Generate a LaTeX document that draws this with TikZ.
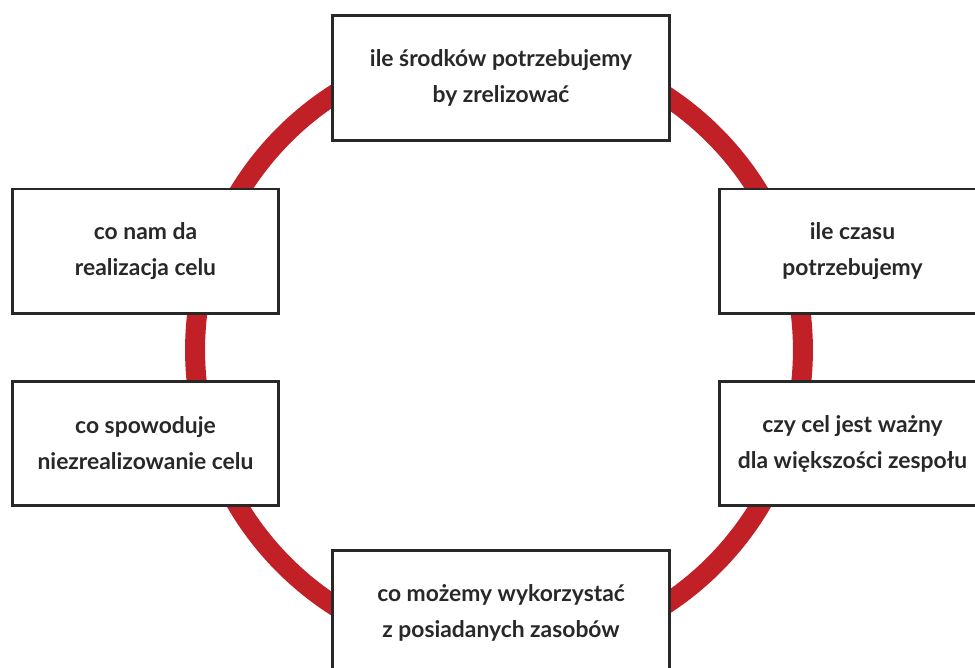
\documentclass[tikz,border=0pt]{standalone}
\usepackage{fontspec}
\setmainfont{Lato}
\usetikzlibrary{positioning}
\definecolor{ringred}{RGB}{193,32,39}
\definecolor{boxline}{RGB}{40,40,40}

\begin{document}
\begin{tikzpicture}[x=0.02cm, y=-0.02cm,
		pytanie/.style={draw=boxline, line width=1.7pt, fill=white, align=center, text=boxline,
			font=\bfseries\fontsize{13}{20.5}\selectfont, inner sep=0pt, minimum height=2.5cm},
		szeroka/.style={pytanie, minimum width=6.76cm},
		waska/.style={pytanie, minimum width=5.34cm}]
		%%%%% START %%%%%
		\useasboundingbox (0,0) rectangle (975,668);
		\clip (0,0) rectangle (975,668);
		
		\draw[ringred, line width=0.4cm] (499,350) circle (6.08cm);
		
		\node[szeroka] (srodki) at (501,78) {ile środków potrzebujemy\\by zrelizować};
		\node[waska] (korzysci) at (145.5,251.5) {co nam da\\realizacja celu};
		\node[waska] (skutki) at (145.5,443.5) {co spowoduje\\niezrealizowanie celu};
		\node[waska] (czas) at (852.5,251.5) {ile czasu\\potrzebujemy};
		\node[waska] (waznosc) at (852.5,443.5) {czy cel jest ważny\\dla większości zespołu};
		\node[szeroka] (zasoby) at (501,612.5) {co możemy wykorzystać\\z posiadanych zasobów};
		%%%%% END %%%%%
\end{tikzpicture}
\end{document}
